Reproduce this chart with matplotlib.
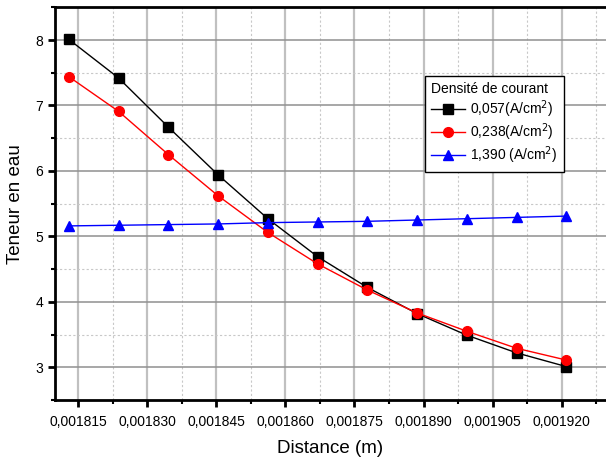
import matplotlib
matplotlib.use('Agg')
import matplotlib.pyplot as plt
from matplotlib.ticker import MultipleLocator, FuncFormatter

plt.rcParams['font.family'] = ['Liberation Sans', 'DejaVu Sans']

distance = [0.001813, 0.0018238, 0.0018346, 0.0018454, 0.0018562, 0.001867,
            0.0018778, 0.0018886, 0.0018994, 0.0019102, 0.001921]
teneur_057 = [8.01, 7.42, 6.67, 5.94, 5.27, 4.69, 4.22, 3.82, 3.49, 3.22, 3.01]
teneur_238 = [7.44, 6.91, 6.25, 5.62, 5.06, 4.58, 4.18, 3.83, 3.55, 3.29, 3.11]
teneur_1390 = [5.16, 5.17, 5.18, 5.19, 5.21, 5.22, 5.23, 5.25, 5.27, 5.29, 5.31]
labels = ['0,057(A/cm$^2$)', '0,238(A/cm$^2$)', '1,390 (A/cm$^2$)']

fig = plt.figure(figsize=(6.06, 4.61), dpi=100)
ax = fig.add_axes([55/606, 1-400/461, 1-55/606, (400-7.3)/461])

ax.plot(distance, teneur_057, color='black', marker='s', markersize=6.5, lw=1, label=labels[0])
ax.plot(distance, teneur_238, color='red', marker='o', markersize=7, lw=1, label=labels[1])
ax.plot(distance, teneur_1390, color='blue', marker='^', markersize=7.5, lw=1, label=labels[2])

ax.set_xlim(0.0018100, 0.0019296)
ax.set_ylim(2.5, 8.5)
ax.xaxis.set_major_locator(MultipleLocator(0.000015))
ax.xaxis.set_minor_locator(MultipleLocator(0.0000075))
ax.yaxis.set_major_locator(MultipleLocator(1))
ax.yaxis.set_minor_locator(MultipleLocator(0.5))
ax.xaxis.set_major_formatter(FuncFormatter(lambda v, p: ('%.6f' % v).replace('.', ',')))
ax.yaxis.set_major_formatter(FuncFormatter(lambda v, p: '%d' % round(v)))

ax.grid(which='major', axis='x', color='#c0c0c0', lw=1.6, ls='-')
ax.grid(which='major', axis='y', color='#909090', lw=1.1, ls='-')
ax.grid(which='minor', color='#c8c8c8', lw=0.8, ls=(0, (2, 2)))
ax.set_axisbelow(True)

for s in ['left', 'bottom', 'top']:
    ax.spines[s].set_linewidth(2)
ax.spines['right'].set_visible(False)
ax.tick_params(which='major', direction='out', length=5, width=2, labelsize=10)
ax.tick_params(which='minor', direction='out', length=3, width=1.5)
ax.tick_params(axis='x', pad=6)

ax.set_xlabel('Distance (m)', fontsize=13.5, labelpad=8)
ax.set_ylabel('Teneur en eau', fontsize=13.5, labelpad=8)

leg = ax.legend(title='Densité de courant', loc='upper left',
                bbox_to_anchor=(0.6715, 0.825), borderaxespad=0,
                fontsize=10, title_fontsize=10, fancybox=False,
                edgecolor='black', framealpha=1, handlelength=2.4,
                handletextpad=0.4, labelspacing=0.12, borderpad=0.45,
                alignment='left')
leg.get_frame().set_linewidth(1)

fig.savefig('out.png', dpi=100)
